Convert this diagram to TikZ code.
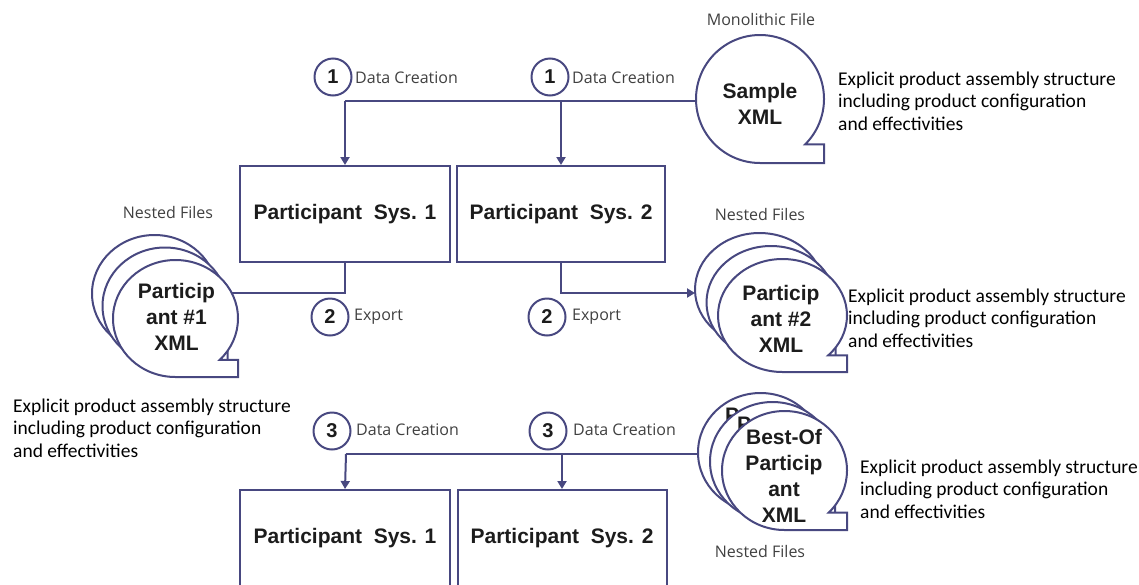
\documentclass[tikz,border=0pt]{standalone}
\usepackage{fontspec}
\usetikzlibrary{arrows.meta}
\newfontfamily\lblfont{Open Sans}
\newfontfamily\headfont{Liberation Sans}
\newfontfamily\notefont{Carlito}
\definecolor{edge}{RGB}{72,72,128}
\definecolor{ink}{RGB}{28,28,28}
\definecolor{soft}{RGB}{64,64,64}

% sequential-access (tape) outline: centre x, centre y, x radius, y radius
\newcommand\tapeshape[4]{%
  \draw[tape] (#1,#2+#4) arc[start angle=90, end angle=405, x radius=#3, y radius=#4]
    -- (#1+#3,#2+0.7071*#4) -- (#1+#3,#2+#4) -- cycle;}

\begin{document}
\begin{tikzpicture}[x=1pt, y=-1pt,
  tape/.style={draw=edge, line width=2pt, fill=white, line join=miter},
  sysbox/.style={draw=edge, line width=2pt, minimum height=96pt, inner sep=0pt,
    font=\headfont\bfseries\fontsize{21}{25}\selectfont, text=ink},
  stepnum/.style={circle, draw=edge, line width=2pt, minimum size=37pt, inner sep=0pt,
    font=\headfont\bfseries\fontsize{20}{24}\selectfont, text=ink},
  steplabel/.style={anchor=west, inner sep=0pt, font=\lblfont\fontsize{16}{19}\selectfont, text=soft},
  caption/.style={inner sep=0pt, font=\lblfont\fontsize{16}{19}\selectfont, text=soft},
  tapetext/.style={align=center, inner sep=0pt, font=\headfont\bfseries\fontsize{21}{26}\selectfont, text=ink},
  note/.style={anchor=west, align=left, inner sep=0pt, font=\notefont\fontsize{19.5}{22.5}\selectfont, text=black},
  link/.style={draw=edge, line width=2pt},
  arr/.style={link, -{Triangle[length=8pt,width=9pt]}}
]
\useasboundingbox (0,0) rectangle (1139,584);

% participant systems, first pass
\node[sysbox, minimum width=210pt] (s1) at (345,214) {Participant\ \ Sys. 1};
\node[sysbox, minimum width=208pt] (s2) at (561,214) {Participant\ \ Sys. 2};
% participant systems, second pass
\node[sysbox, minimum width=210pt] (s3) at (345,538) {Participant\ \ Sys. 1};
\node[sysbox, minimum width=209pt] (s4) at (562,538) {Participant\ \ Sys. 2};

% step 1: data creation from the sample file
\coordinate (sampleW) at (700,101);
\coordinate (j1) at (345,101);
\draw[link] (sampleW) -- (j1);
\draw[arr] (j1) -- (s1.north);
\draw[arr] (s2.north |- j1) -- (s2.north);
\node[stepnum] (n1a) at (333,77) {1};
\node[steplabel] (l1a) at (355,78) {Data Creation};
\node[stepnum] (n1b) at (550,77) {1};
\node[steplabel] (l1b) at (572,78) {Data Creation};

% step 2: export
\coordinate (p1E) at (220,293);
\coordinate (p2W) at (695,293);
\draw[link] (s1.south) |- (p1E);
\draw[arr] (s2.south) |- (p2W);
\node[stepnum] (n2a) at (330,317) {2};
\node[steplabel] (l2a) at (354,317) {Export};
\node[stepnum] (n2b) at (547,317) {2};
\node[steplabel] (l2b) at (572,317) {Export};

% step 3: data creation from the best-of file
\coordinate (bestW) at (705,454);
\coordinate (j3) at (346,454);
\draw[link] (bestW) -- (j3);
\draw[arr] (j3) -- (s3.north);
\draw[arr] (s4.north |- j3) -- (s4.north);
\node[stepnum] (n3a) at (332,431) {3};
\node[steplabel] (l3a) at (356,430) {Data Creation};
\node[stepnum] (n3b) at (548,431) {3};
\node[steplabel] (l3b) at (573,430) {Data Creation};

% monolithic sample file
\node[caption] (monocap) at (761,19) {Monolithic File};
\tapeshape{760}{99}{64}{64}
\node[tapetext] (sample) at (760,104) {Sample\\XML};

% nested files of participant 1
\node[caption] (nest1) at (168,212) {Nested Files};
\tapeshape{154.5}{293.5}{62.5}{58.5}
\tapeshape{165}{306}{62.5}{58.5}
\tapeshape{175.5}{318.5}{62.5}{58.5}
\node[tapetext] (part1) at (176.5,317) {Particip\\ant \#1\\XML};

% nested files of participant 2
\node[caption] (nest2) at (760,214) {Nested Files};
\tapeshape{759.5}{289.5}{64.5}{56.5}
\tapeshape{771}{302.5}{64.5}{56.5}
\tapeshape{782.5}{315.5}{64.5}{56.5}
\node[tapetext] (part2) at (781,319) {Particip\\ant \#2\\XML};

% nested best-of files
\tapeshape{760.5}{452.5}{62.5}{59.5}
\node[tapetext, anchor=north west] (bp1) at (725,408) {P};
\tapeshape{772.5}{461.5}{62.5}{59.5}
\node[tapetext, anchor=north west] (bp2) at (737,417) {P};
\tapeshape{784.5}{470.5}{62.5}{59.5}
\node[tapetext] (best) at (784,476) {Best-Of\\Particip\\ant\\XML};
\node[caption] (nest3) at (760,551) {Nested Files};

% descriptions
\node[note] (d1) at (838,101) {Explicit product assembly structure\\including product configuration\\and effectivities};
\node[note] (d2) at (848,318) {Explicit product assembly structure\\including product configuration\\and effectivities};
\node[note] (d3) at (13,428) {Explicit product assembly structure\\including product configuration\\and effectivities};
\node[note] (d4) at (860,489) {Explicit product assembly structure\\including product configuration\\and effectivities};
\end{tikzpicture}
\end{document}
